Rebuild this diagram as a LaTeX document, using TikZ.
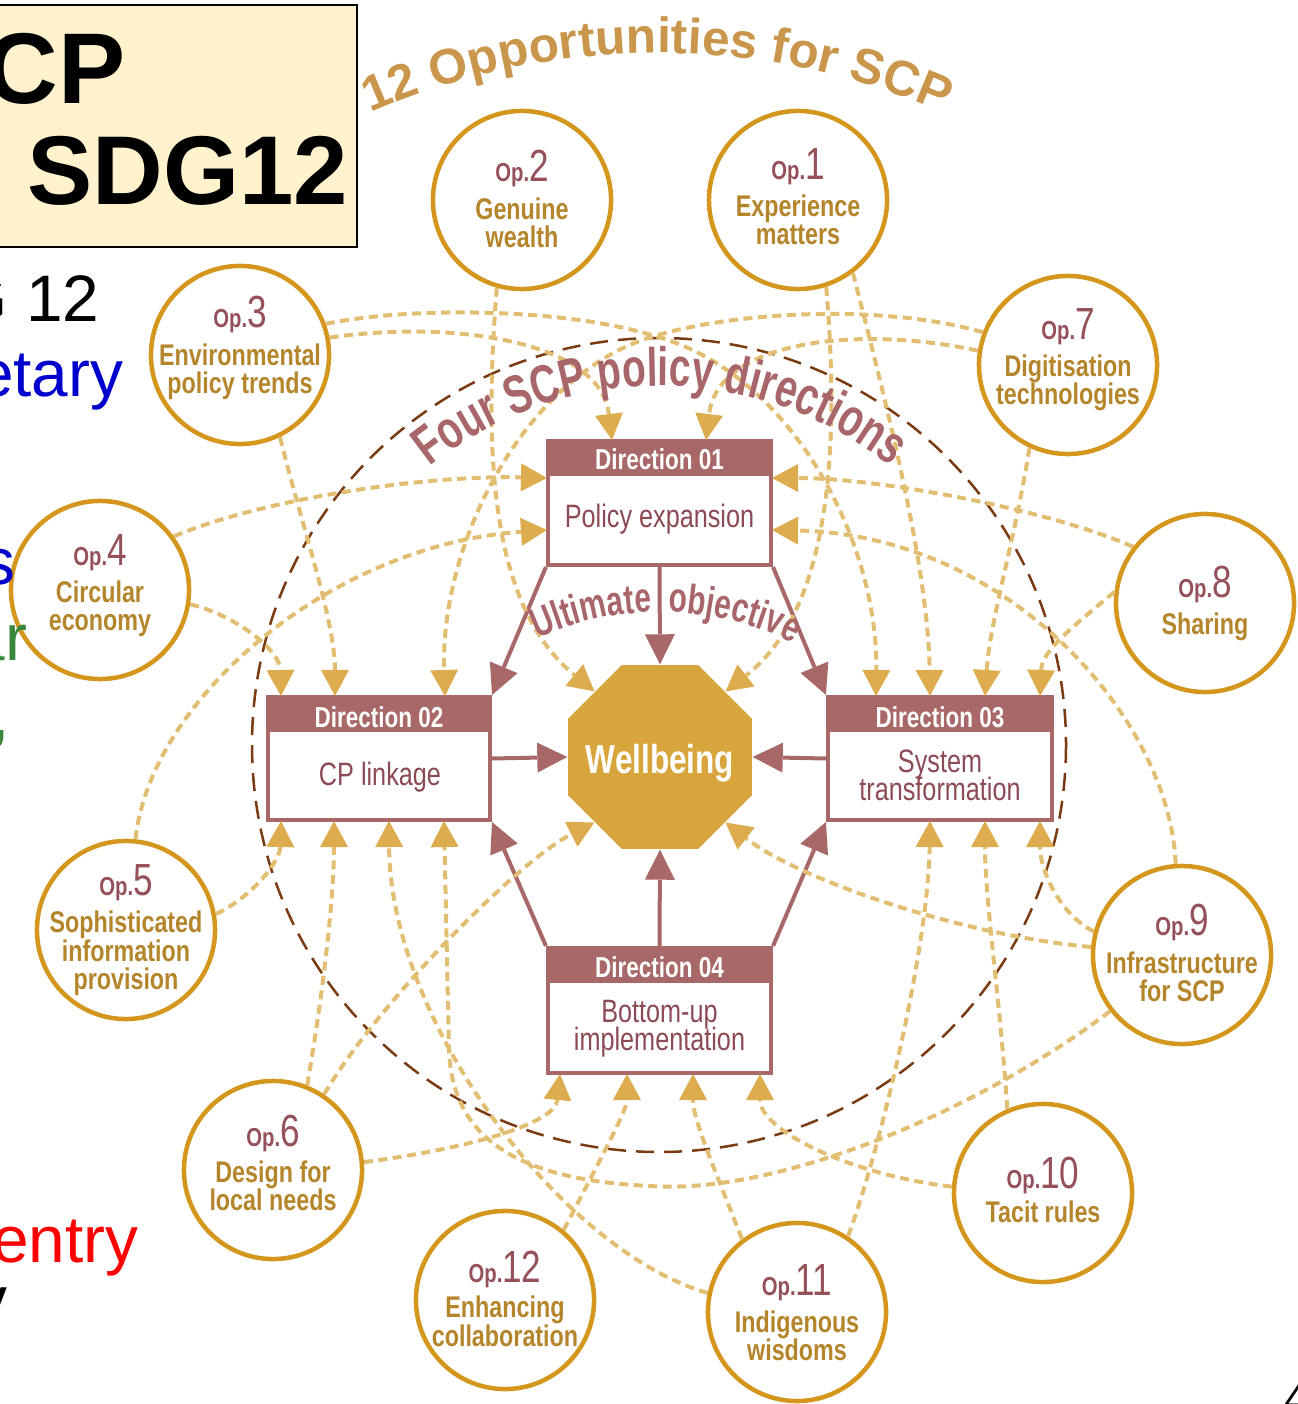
\documentclass[tikz,border=0pt]{standalone}
\usepackage{fontspec}
\setmainfont{Liberation Sans}
\newfontfamily\cf[FakeStretch=0.78]{Liberation Sans}
\newfontfamily\nf[FakeStretch=0.72]{Liberation Sans}
\usetikzlibrary{arrows.meta,shapes.geometric,decorations.text,calc}
\definecolor{goldc}{HTML}{D4961C}
\definecolor{lblc}{HTML}{B5852C}
\definecolor{opcol}{HTML}{95505A}
\definecolor{dashc}{HTML}{E2BE72}
\definecolor{tipc}{HTML}{DDAC4E}
\definecolor{mauve}{HTML}{A86868}
\definecolor{mtext}{HTML}{8C4A56}
\definecolor{wbc}{HTML}{D8A53D}
\definecolor{ringc}{HTML}{7A3A12}
\definecolor{titlec}{HTML}{C9964C}
\definecolor{fourc}{HTML}{A8656A}
\definecolor{boxfill}{HTML}{FFF2CC}
\definecolor{sblue}{HTML}{0000CC}
\definecolor{sgreen}{HTML}{38873A}
\definecolor{sred}{HTML}{FF0000}
\newcommand\opFnt{\cf\bfseries\fontsize{7.4}{8}\selectfont}
\newcommand\numFnt{\cf\fontsize{12.8}{13}\selectfont}
\newcommand\opcirc[5]{%
  \node[opcircle] (#1) at (#2,#3) {};
  \node[optxt] (#1n) at (#2,#4) {{\opFnt Op.}{\numFnt #5}};
}
\tikzset{
  opcircle/.style={circle, draw=goldc, line width=0.045cm, fill=white, minimum size=1.78cm, inner sep=0},
  optxt/.style={anchor=base, inner sep=0, text=opcol},
  lbl/.style={anchor=base, inner sep=0, text=lblc, font=\cf\bfseries\fontsize{8.5}{8}\selectfont},
  gcon/.style={draw=dashc, line width=0.04cm, dash pattern=on 0.09cm off 0.055cm,
    -{Triangle[length=0.26cm,width=0.28cm,line width=0pt,color=tipc]}},
  mcon/.style={draw=mauve, line width=0.04cm, -{Triangle[length=0.3cm,width=0.3cm,line width=0pt]}},
  dbox/.style={rectangle, draw=mauve, line width=0.04cm, fill=white, inner sep=0},
  dhead/.style={anchor=base, inner sep=0, text=white, font=\cf\bfseries\fontsize{8.2}{8}\selectfont},
  dbody/.style={anchor=base, inner sep=0, text=mtext, font=\cf\fontsize{9.2}{9}\selectfont},
  slide/.style={anchor=base east, inner sep=0, font=\fontsize{18.7}{20}\selectfont},
}
\begin{document}
\begin{tikzpicture}[x=0.01cm,y=-0.01cm]
\useasboundingbox (0,0) rectangle (1297,1404);
\clip (0,0) rectangle (1297,1404);

% big dashed ring
\draw[ringc, line width=0.025cm, dash pattern=on 0.18cm off 0.1cm] (659,745) circle[radius=407];

% opportunity circles
\opcirc{op1}{798}{200}{180}{1}
\opcirc{op2}{522}{200}{182}{2}
\opcirc{op3}{240}{355}{328}{3}
\opcirc{op4}{100}{590}{566}{4}
\opcirc{op5}{126}{930}{895}{5}
\opcirc{op6}{273}{1170}{1146}{6}
\opcirc{op7}{1068}{365}{340}{7}
\opcirc{op8}{1205}{603}{598}{8}
\opcirc{op9}{1182}{955}{935}{9}
\opcirc{op10}{1043}{1193}{1188}{10}
\opcirc{op11}{797}{1312}{1295}{11}
\opcirc{op12}{505}{1300}{1282}{12}

\node[lbl] (op1a) at (798,217) {Experience};
\node[lbl] (op1b) at (798,245) {matters};
\node[lbl] (op2a) at (522,220) {Genuine};
\node[lbl] (op2b) at (522,248) {wealth};
\node[lbl] (op3a) at (240,366) {Environmental};
\node[lbl] (op3b) at (240,394) {policy trends};
\node[lbl] (op4a) at (100,603) {Circular};
\node[lbl] (op4b) at (100,630) {economy};
\node[lbl] (op5a) at (126,932) {Sophisticated};
\node[lbl] (op5b) at (126,961) {information};
\node[lbl] (op5c) at (126,989) {provision};
\node[lbl] (op6a) at (273,1182) {Design for};
\node[lbl] (op6b) at (273,1210) {local needs};
\node[lbl] (op7a) at (1068,377) {Digitisation};
\node[lbl] (op7b) at (1068,405) {technologies};
\node[lbl] (op8a) at (1205,634) {Sharing};
\node[lbl] (op9a) at (1182,973) {Infrastructure};
\node[lbl] (op9b) at (1182,1001) {for SCP};
\node[lbl] (op10a) at (1043,1222) {Tacit rules};
\node[lbl] (op11a) at (797,1332) {Indigenous};
\node[lbl] (op11b) at (797,1360) {wisdoms};
\node[lbl] (op12a) at (505,1317) {Enhancing};
\node[lbl] (op12b) at (505,1346) {collaboration};

% direction boxes
\node[dbox, minimum width=2.23cm, minimum height=1.24cm] (d1) at (659.5,503) {};
\node[dbox, minimum width=2.22cm, minimum height=1.23cm] (d2) at (379,758.5) {};
\node[dbox, minimum width=2.24cm, minimum height=1.23cm] (d3) at (940,758.5) {};
\node[dbox, minimum width=2.23cm, minimum height=1.25cm] (d4) at (659.5,1010.5) {};
\foreach \b in {d1,d2,d3,d4}{
  \fill[mauve] (\b.north west) rectangle ($(\b.north east)+(0,37)$);
}
\node[dhead] (d1h) at (659.5,470) {Direction 01};
\node[dhead] (d2h) at (379,727) {Direction 02};
\node[dhead] (d3h) at (940,727) {Direction 03};
\node[dhead] (d4h) at (659.5,977) {Direction 04};
\node[dbody] (d1b) at (659.5,528) {Policy expansion};
\node[dbody] (d2b) at (380,785) {CP linkage};
\node[dbody] (d3b) at (940,772) {System};
\node[dbody] (d3c) at (940,800) {transformation};
\node[dbody] (d4b) at (659.5,1022) {Bottom-up};
\node[dbody] (d4c) at (659.5,1050) {implementation};

% wellbeing
\node[regular polygon, regular polygon sides=8, minimum size=1.99cm, fill=wbc, inner sep=0] (wb) at (660,757) {};
\node[anchor=base, inner sep=0, text=white, font=\cf\bfseries\fontsize{11.5}{12}\selectfont] (wbt) at (660,773) {Wellbeing};

% solid arrows
\draw[mcon] (d1.south) -- (wb.north);
\draw[mcon] (d1.south west) -- (d2.north east);
\draw[mcon] (d1.south east) -- (d3.north west);
\draw[mcon] (d2.east) -- (wb.west);
\draw[mcon] (d3.west) -- (wb.east);
\draw[mcon] (d4.north) -- (wb.south);
\draw[mcon] (d4.north west) -- (d2.south east);
\draw[mcon] (d4.north east) -- (d3.south west);

% arrow tip points
\coordinate (d1t1) at (612,440);
\coordinate (d1t2) at (706,440);
\coordinate (d1l1) at (547,478);
\coordinate (d1l2) at (547,530);
\coordinate (d1r1) at (772,478);
\coordinate (d1r2) at (772,530);
\coordinate (d2t1) at (281,696);
\coordinate (d2t2) at (335,696);
\coordinate (d2t3) at (445,696);
\coordinate (d2b1) at (281,821);
\coordinate (d2b2) at (334,821);
\coordinate (d2b3) at (389,821);
\coordinate (d2b4) at (444,821);
\coordinate (d3t1) at (876,696);
\coordinate (d3t2) at (930,696);
\coordinate (d3t3) at (985,696);
\coordinate (d3t4) at (1040,696);
\coordinate (d3b1) at (930,821);
\coordinate (d3b2) at (985,821);
\coordinate (d3b3) at (1040,821);
\coordinate (d4b1) at (560,1074);
\coordinate (d4b2) at (627,1074);
\coordinate (d4b3) at (693,1074);
\coordinate (d4b4) at (760,1074);

% dashed connectors
\draw[gcon] (op1.-72) .. controls (840,450) and (830,610) .. (wb.45);
\draw[gcon] (op1.-53) .. controls (880,380) and (928,560) .. (d3t2);
\draw[gcon] (op2.-106) .. controls (482,470) and (495,610) .. (wb.135);
\draw[gcon] (op3.-64) .. controls (300,520) and (335,620) .. (d2t2);
\draw[gcon] (op3.11) .. controls (450,320) and (600,340) .. (d1t1);
\draw[gcon] (op3.20) .. controls (420,305) and (570,310) .. (651,335) .. controls (790,370) and (878,540) .. (d3t1);
\draw[gcon] (op4.-9) .. controls (235,615) and (280,650) .. (d2t1);
\draw[gcon] (op4.36) .. controls (260,500) and (420,475) .. (d1l1);
\draw[gcon] (op5.84) .. controls (150,700) and (330,545) .. (d1l2);
\draw[gcon] (op5.10) .. controls (255,895) and (280,860) .. (d2b1);
\draw[gcon] (op6.68) .. controls (322,1000) and (334,900) .. (d2b2);
\draw[gcon] (op6.56) .. controls (380,1000) and (520,860) .. (wb.225);
\draw[gcon] (op6.5) .. controls (460,1150) and (555,1125) .. (d4b1);
\draw[gcon] (op7.159) .. controls (890,305) and (745,310) .. (658,335) .. controls (528,370) and (440,540) .. (d2t3);
\draw[gcon] (op7.171) .. controls (860,325) and (718,340) .. (d1t2);
\draw[gcon] (op7.-115) .. controls (1015,540) and (990,620) .. (d3t3);
\draw[gcon] (op8.142) .. controls (1050,510) and (880,478) .. (d1r1);
\draw[gcon] (op8.173) .. controls (1075,625) and (1042,650) .. (d3t4);
\draw[gcon] (op9.94) .. controls (1170,720) and (1010,535) .. (d1r2);
\draw[gcon] (op9.165) .. controls (1060,915) and (1040,870) .. (d3b3);
\draw[gcon] (op9.175) .. controls (960,935) and (800,880) .. (wb.315);
\draw[gcon] (op9.218) .. controls (980,1110) and (780,1195) .. (650,1186) .. controls (520,1180) and (452,1140) .. (449,1050) -- (d2b4);
\draw[gcon] (op10.176) .. controls (850,1175) and (760,1130) .. (d4b4);
\draw[gcon] (op10.113) .. controls (1000,1000) and (985,900) .. (d3b2);
\draw[gcon] (op11.127) .. controls (715,1170) and (693,1120) .. (d4b3);
\draw[gcon] (op11.56) .. controls (880,1150) and (928,950) .. (d3b1);
\draw[gcon] (op11.168) .. controls (560,1250) and (390,1020) .. (d2b3);
\draw[gcon] (op12.50) .. controls (600,1160) and (627,1110) .. (d4b2);

% curved titles
\path[decorate, decoration={text along path, text align=center,
  text={|\bfseries\fontsize{14.1}{15}\selectfont\color{titlec}|12 Opportunities for SCP}}]
  (657,768) ++(-120:715) arc[start angle=-120, end angle=-60, radius=715];
\path[decorate, decoration={text along path, text align=center,
  text={|\nf\bfseries\fontsize{15.4}{16}\selectfont\color{fourc}|Four SCP policy directions}}]
  (660,757) ++(-135:371) arc[start angle=-135, end angle=-45, radius=371];
\path[decorate, decoration={text along path, text align=right,
  text={|\nf\bfseries\fontsize{11.8}{12}\selectfont\color{fourc}|Ultimate}}]
  (660,912) ++(-122:300) arc[start angle=-122, end angle=-91.6, radius=300];
\path[decorate, decoration={text along path, text align=left,
  text={|\nf\bfseries\fontsize{11.8}{12}\selectfont\color{fourc}|objective}}]
  (660,912) ++(-88.4:300) arc[start angle=-88.4, end angle=-55, radius=300];

% slide title box and fragments
\node[draw=black, line width=0.022cm, fill=boxfill, minimum width=3.68cm, minimum height=2.42cm, inner sep=0, anchor=north west] (tbox) at (-12,4) {};
\node[anchor=base west, inner sep=0, font=\bfseries\fontsize{28.6}{30}\selectfont] (t1) at (-15,104) {CP};
\node[anchor=base west, inner sep=0, font=\bfseries\fontsize{27.8}{30}\selectfont] (t2) at (27,205) {SDG12};
\node[slide] (s1) at (100,322) {G 12};
\node[slide, text=sblue] (s2) at (124,397) {etary};
\node[slide, text=sblue] (s3) at (16,584) {s};
\node[slide, text=sgreen] (s4) at (28,660) {ar};
\node[slide, text=sgreen] (s5) at (10,737) {,};
\node[slide, text=sred] (s6) at (139,1262) {entry};
\node[slide] (s7) at (8,1322) {y};
\node[anchor=base west, inner sep=0, font=\fontsize{12}{12}\selectfont] (pg) at (1284,1413) {4};
\end{tikzpicture}
\end{document}
